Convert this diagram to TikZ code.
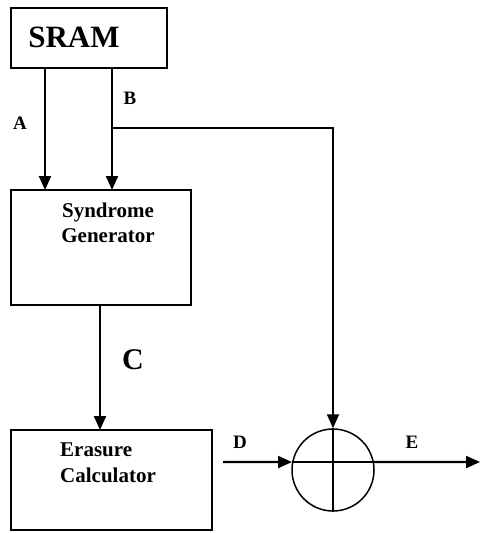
\documentclass[tikz,border=0pt]{standalone}
\usepackage{fontspec}
\setmainfont{Liberation Serif}
\usetikzlibrary{arrows.meta}

\begin{document}
\begin{tikzpicture}[x=1pt, y=-1pt,
  box/.style={draw=black, line width=1.5pt, inner sep=0pt},
  flow/.style={black, line width=2.2pt, -{Triangle[length=14pt, width=12pt]}},
  lbl/.style={font=\fontsize{19}{19}\selectfont\bfseries, inner sep=0pt}]
\useasboundingbox (0,0) rectangle (480,533);
% blocks
\node[box, minimum width=156pt, minimum height=60pt] (sram) at (89,38) {};
\node[box, minimum width=180pt, minimum height=115pt] (syn) at (101,247.5) {};
\node[box, minimum width=201pt, minimum height=100pt] (era) at (111.5,480) {};
\node[box, circle, minimum size=82pt] (xor) at (333,470) {};
\draw[line width=1.3pt] (xor.north) -- (xor.south);
\draw[line width=1.3pt] (xor.169) -- (xor.11);

\node[font=\fontsize{31}{31}\selectfont\bfseries, anchor=base, inner sep=0pt] (sramtxt) at (74,47) {SRAM};
\node[font=\fontsize{21}{25}\selectfont\bfseries, align=center, anchor=north, inner sep=0pt] (syntxt) at (108,203) {Syndrome\\Generator};
\node[font=\fontsize{21}{26}\selectfont\bfseries, align=left, anchor=north west, inner sep=0pt] (eratxt) at (60,443) {Erasure\\Calculator};

% connectors
\coordinate (a0) at (45,68);
\coordinate (a1) at (45,190);
\coordinate (b0) at (112,68);
\coordinate (b1) at (112,190);
\coordinate (bsplit) at (112,128);
\coordinate (c0) at (100,305);
\coordinate (c1) at (100,430);
\coordinate (d0) at (223,462);
\coordinate (e1) at (480,462);
\draw[flow] (a0) -- (a1);
\draw[flow] (b0) -- (b1);
\draw[flow, line width=1.8pt] (bsplit) -| (xor.north);
\draw[flow] (c0) -- (c1);
\draw[flow] (d0) -- (xor.169);
\draw[flow] (xor.11) -- (e1);

\node[lbl] (la) at (20,123) {A};
\node[lbl] (lb) at (130,98) {B};
\node[lbl, font=\fontsize{30}{30}\selectfont\bfseries] (lc) at (133,360) {C};
\node[lbl] (ld) at (240,442) {D};
\node[lbl] (le) at (412,442) {E};
\end{tikzpicture}
\end{document}
